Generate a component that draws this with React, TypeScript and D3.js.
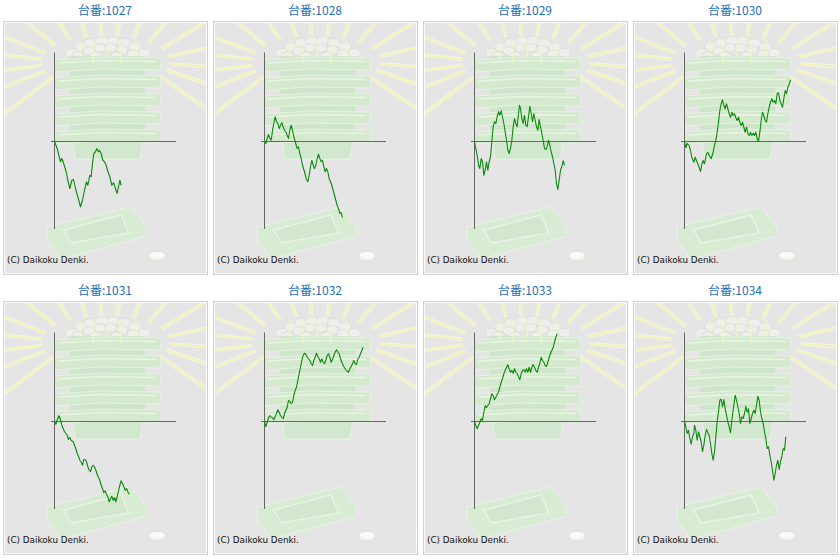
import React from "react";
import * as d3 from "d3";

// ---- data: cumulative medal difference vs games played ----
const machines = ["1027", "1028", "1029", "1030", "1031", "1032", "1033", "1034"];

const s1027: [number, number][] = [
  [0,0],[160,-280],[360,-810],[440,-680],[520,-810],[700,-1210],[800,-1550],[920,-1880],[1040,-1550],[1140,-1520],
  [1260,-1880],[1400,-2210],[1560,-2610],[1680,-2350],[1800,-1950],[1920,-1610],[2000,-1750],[2120,-1350],[2200,-1410],
  [2280,-880],[2360,-480],[2460,-410],[2540,-280],[2640,-410],[2700,-350],[2800,-480],[2900,-750],[3000,-810],[3100,-950],
  [3200,-1200],[3320,-1410],[3440,-1750],[3540,-1650],[3660,-1880],[3760,-2080],[3840,-1810],[3920,-1550],[4000,-1750],
];
const s1028: [number, number][] = [
  [0,0],[80,-80],[160,120],[240,280],[320,120],[400,50],[500,520],[640,990],[720,790],[800,720],[880,520],[960,650],
  [1040,750],[1120,590],[1200,450],[1280,390],[1360,250],[1440,120],[1520,450],[1600,650],[1680,450],[1760,190],
  [1860,-50],[1960,-280],[2040,-210],[2120,-480],[2200,-680],[2280,-950],[2400,-1210],[2500,-1480],[2600,-1610],
  [2680,-1350],[2760,-1010],[2840,-750],[2920,-950],[3000,-1080],[3080,-950],[3160,-680],[3240,-510],[3320,-680],
  [3400,-810],[3480,-750],[3560,-1010],[3640,-1210],[3720,-1080],[3800,-1210],[3880,-1480],[3960,-1610],[4040,-1750],
  [4120,-1950],[4200,-2150],[4280,-2350],[4360,-2550],[4440,-2680],[4520,-2880],[4600,-2850],[4680,-3040],
];
const s1029: [number, number][] = [
  [0,0],[80,-280],[160,-550],[240,-950],[320,-1080],[400,-680],[480,-810],[560,-1350],[640,-1150],[720,-810],
  [800,-1150],[880,-810],[960,-610],[1040,-10],[1120,590],[1200,790],[1280,720],[1360,990],[1440,1190],[1520,1050],
  [1600,1230],[1680,990],[1760,720],[1840,390],[1920,50],[2000,-350],[2080,-480],[2160,-280],[2240,50],[2320,590],
  [2400,920],[2480,720],[2560,590],[2640,1120],[2700,1450],[2760,1320],[2840,920],[2920,720],[3000,1050],[3080,650],
  [3160,590],[3240,990],[3320,1410],[3400,1120],[3480,790],[3560,1120],[3640,850],[3720,590],[3800,450],[3880,880],
  [3960,590],[4040,320],[4120,50],[4200,-280],[4280,-320],[4360,-210],[4440,50],[4520,-150],[4600,-410],[4680,-610],
  [4760,-880],[4840,-1150],[4920,-1680],[5000,-1920],[5080,-1550],[5160,-1150],[5240,-1010],[5320,-770],[5400,-950],
];
const s1030: [number, number][] = [
  [0,0],[80,-250],[160,-70],[280,-160],[360,-360],[440,-630],[560,-830],[640,-630],[720,-760],[840,-960],[960,-1200],
  [1040,-920],[1120,-760],[1200,-890],[1320,-490],[1400,-430],[1480,-560],[1600,-690],[1720,-430],[1800,-160],[1880,40],
  [1960,370],[2040,770],[2120,1240],[2200,1510],[2280,1670],[2360,1440],[2440,1310],[2520,1510],[2600,1310],[2680,1110],
  [2760,970],[2840,1170],[2920,1040],[3000,1110],[3080,950],[3160,840],[3240,970],[3320,770],[3400,640],[3480,770],
  [3560,570],[3640,370],[3720,570],[3800,330],[3880,240],[3960,370],[4040,240],[4120,330],[4200,240],[4280,370],
  [4360,110],[4440,10],[4520,370],[4600,840],[4680,1170],[4760,1040],[4840,840],[4920,770],[5000,1110],[5080,1370],
  [5160,1570],[5240,1710],[5320,1570],[5400,1640],[5480,1510],[5560,1910],[5640,1950],[5720,1640],[5800,1510],
  [5880,1370],[5960,1710],[6040,2040],[6120,1910],[6200,2170],[6280,2280],[6360,2470],
];
const s1031: [number, number][] = [
  [0,0],[80,-110],[160,50],[260,230],[340,120],[440,-150],[520,-280],[600,-410],[680,-480],[760,-550],[840,-720],
  [920,-640],[1000,-750],[1120,-810],[1200,-950],[1280,-1080],[1360,-1280],[1440,-1390],[1520,-1550],[1600,-1610],
  [1680,-1750],[1760,-1520],[1840,-1520],[1920,-1610],[2000,-1810],[2080,-1950],[2160,-2010],[2240,-1810],[2320,-1750],
  [2400,-1810],[2480,-1950],[2560,-2110],[2640,-2240],[2720,-2350],[2800,-2550],[2880,-2680],[2960,-2850],[3040,-2770],
  [3120,-2910],[3200,-3010],[3280,-3210],[3360,-3080],[3440,-2990],[3520,-3150],[3600,-3040],[3680,-3210],[3760,-3010],
  [3840,-2770],[3920,-2550],[4000,-2370],[4080,-2480],[4160,-2610],[4240,-2750],[4320,-2680],[4400,-2810],[4480,-2910],
];
const s1032: [number, number][] = [
  [0,0],[80,-200],[160,-30],[240,150],[320,240],[400,170],[480,150],[560,70],[640,200],[720,310],[800,470],[880,370],
  [960,240],[1040,170],[1120,110],[1200,310],[1280,440],[1360,570],[1440,840],[1520,810],[1600,710],[1680,770],
  [1760,1040],[1840,1240],[1920,1370],[2000,1640],[2080,1910],[2160,2170],[2240,2440],[2320,2640],[2400,2730],
  [2480,2680],[2560,2570],[2640,2510],[2720,2440],[2800,2310],[2880,2240],[2960,2440],[3040,2570],[3120,2730],
  [3200,2600],[3280,2510],[3360,2370],[3440,2510],[3520,2370],[3600,2310],[3680,2440],[3760,2640],[3840,2710],
  [3920,2570],[4000,2370],[4080,2470],[4160,2640],[4240,2770],[4320,2870],[4400,2770],[4480,2710],[4560,2510],
  [4640,2370],[4720,2240],[4800,2150],[4880,2070],[4960,2010],[5040,1970],[5120,2110],[5200,2200],[5280,2310],
  [5360,2440],[5440,2310],[5520,2280],[5600,2510],[5680,2570],[5760,2710],[5840,2840],[5920,2970],
];
const s1033: [number, number][] = [
  [0,0],[80,-160],[160,-290],[240,-160],[320,-30],[400,110],[480,40],[560,370],[640,640],[720,550],[800,640],[880,710],
  [960,910],[1040,1110],[1120,1040],[1200,870],[1280,970],[1360,1080],[1440,1170],[1520,1370],[1600,1570],[1680,1710],
  [1760,1910],[1840,2040],[1920,2170],[2000,2270],[2080,2110],[2160,1970],[2240,2040],[2320,1930],[2400,2110],
  [2480,1970],[2560,1910],[2640,1800],[2720,1670],[2800,1910],[2880,2040],[2960,2070],[3040,1970],[3120,2110],
  [3200,1970],[3280,2170],[3360,1970],[3440,2170],[3520,2280],[3600,2170],[3680,2040],[3760,1970],[3840,2170],
  [3920,2330],[4000,2570],[4080,2440],[4160,2370],[4240,2240],[4320,2200],[4400,2370],[4480,2570],[4560,2710],
  [4640,2840],[4720,2970],[4800,3170],[4880,3370],[4960,3510],
];
const s1034: [number, number][] = [
  [0,0],[80,-210],[160,-480],[240,-350],[320,-680],[400,-910],[480,-610],[560,-480],[600,-150],[680,-350],[760,-750],
  [840,-410],[920,-610],[1000,-810],[1080,-1210],[1160,-950],[1240,-550],[1320,-320],[1400,-450],[1480,-550],
  [1560,-880],[1640,-1280],[1720,-1550],[1800,-1210],[1880,-610],[1960,-10],[2040,390],[2120,850],[2200,890],
  [2280,590],[2360,880],[2440,520],[2520,250],[2600,-10],[2680,-210],[2760,-450],[2840,50],[2920,450],[3000,850],
  [3040,1050],[3120,850],[3200,590],[3280,320],[3360,-80],[3440,190],[3520,120],[3600,320],[3680,610],[3760,370],
  [3840,510],[3920,-80],[4000,120],[4080,320],[4160,450],[4240,320],[4320,650],[4400,1010],[4480,850],[4560,390],
  [4640,120],[4720,-80],[4800,-410],[4880,-680],[4960,-1080],[5040,-1010],[5120,-1350],[5200,-1610],[5280,-1950],
  [5360,-2350],[5440,-2080],[5520,-1750],[5600,-1550],[5680,-1920],[5760,-1610],[5840,-1410],[5920,-1080],
  [6000,-1150],[6080,-610],
];

const seriesList = [s1027, s1028, s1029, s1030, s1031, s1032, s1033, s1034];
const gamesMax = 7290;
const medalsMax = 3500;
const titlePrefix = "台番:";
const copyright = "(C) Daikoku Denki.";

// ---- layout ----
const PW = 210;
const PH = 280;
const x = d3.scaleLinear().domain([0, gamesMax]).range([54.5, 176]);
const y = d3.scaleLinear().domain([-medalsMax, medalsMax]).range([229, 54]);
const line = d3
  .line<[number, number]>()
  .x((d) => x(d[0]))
  .y((d) => y(d[1]))
  .curve(d3.curveLinear);

const rayAngles = [145, 160, 173, 186, 200, 218, 236, 252, 266, 280, 295, 312, 330, 348, 4, 18, 33];
const balls: [number, number, number][] = [
  [72, 53, 6.5], [81, 47, 6.5], [91, 43, 6.5], [102, 41, 6.5], [113, 41, 6.5], [124, 43, 6.5], [135, 47, 6.5], [144, 53, 6.5],
  [78, 56, 6], [89, 51, 6], [100, 48, 6], [111, 48, 6], [122, 50, 6], [133, 54, 6], [95, 56, 6], [117, 56, 6],
];
const tiers = [0, 1, 2, 3, 4];

function Background({ id }: { id: string }) {
  const cx = 106;
  const cy = 62;
  return (
    <g clipPath={`url(#${id})`}>
      <rect x={4} y={22} width={203} height={252} fill="#e5e5e5" />
      {rayAngles.map((a) => {
        const r = (a * Math.PI) / 180;
        const p = {
          x1: cx + Math.cos(r) * 64,
          y1: cy + Math.sin(r) * 26,
          x2: cx + Math.cos(r) * 180,
          y2: cy + Math.sin(r) * 150,
        };
        return (
          <g key={a}>
            <line {...p} stroke="#f4f4ea" strokeWidth={3.6} />
            <line {...p} stroke="#f2f2b2" strokeWidth={1.8} />
          </g>
        );
      })}
      {balls.map((b, i) => (
        <ellipse key={i} cx={b[0]} cy={b[1]} rx={b[2]} ry={b[2] * 0.72} fill="#eeeeea" stroke="#d9d9d6" strokeWidth={0.7} />
      ))}
      <path d="M72,140 L143,140 L140,159 L75,159 Z" fill="#d2e8ce" stroke="#eef7ec" strokeWidth={1} strokeDasharray="2,1" />
      <rect x={70} y={56} width={75} height={86} fill="#cfe5cb" />
      {tiers.map((k) => {
        const t = 57 + k * 18;
        return (
          <g key={k}>
            <path
              d={`M54,${t + 3} L100,${t} L160,${t + 1} L161,${t + 13} L100,${t + 12} L54,${t + 15} Z`}
              fill="#d4e9ce"
              stroke="#e6f3e3"
              strokeWidth={1}
            />
            <path d={`M58,${t + 6} L100,${t + 3.5} L156,${t + 4.5}`} fill="none" stroke="#e8f5e5" strokeWidth={1.6} />
          </g>
        );
      })}
      {[80, 93, 107, 121, 136].map((sx, i) => (
        <line key={i} x1={sx} y1={40} x2={sx} y2={58 + (i % 2) * 6} stroke="#f4f4c4" strokeWidth={1.2} />
      ))}
      <path
        d="M47,227 L131,207 L147,228 L146,236 L132,240 L61,259 L47,240 Z"
        fill="#d8ebd3"
        stroke="#f2f8f0"
        strokeWidth={1}
        strokeDasharray="2,1"
      />
      <path d="M64,230 L121,215 L129,233 L71,243 Z" fill="#d2e7cd" stroke="#e8f4e5" strokeWidth={1.5} />
      <ellipse cx={157} cy={256} rx={9} ry={5} fill="#f2f2ee" stroke="#d8d8d4" strokeWidth={0.8} />
      <ellipse cx={157} cy={255} rx={7} ry={3} fill="#fafaf8" />
    </g>
  );
}

function Panel({ idx }: { idx: number }) {
  const col = idx % 4;
  const row = Math.floor(idx / 4);
  const data = seriesList[idx];
  const id = `clip${idx}`;
  return (
    <g transform={`translate(${col * PW},${row * PH})`}>
      <defs>
        <clipPath id={id}>
          <rect x={4} y={22} width={203} height={252} />
        </clipPath>
      </defs>
      <text
        x={105}
        y={15}
        textAnchor="middle"
        fontFamily="'Noto Sans CJK JP', 'Noto Sans', sans-serif"
        fontSize={12}
        fill="#2470b4"
      >
        {titlePrefix + machines[idx]}
      </text>
      <Background id={id} />
      <rect x={3.5} y={21.5} width={204} height={253} fill="none" stroke="#cfcfcf" strokeWidth={1} />
      <rect x={4.5} y={22.5} width={202} height={251} fill="none" stroke="#fafafa" strokeWidth={1} />
      <line x1={x(0)} x2={x(0)} y1={y(medalsMax) - 1.5} y2={y(-medalsMax)} stroke="#666" strokeWidth={1} />
      <line x1={x(0) - 3.5} x2={x(gamesMax)} y1={y(0)} y2={y(0)} stroke="#666" strokeWidth={1} />
      <path d={line(data) ?? ""} fill="none" stroke="#0a8a0a" strokeWidth={1.1} strokeLinejoin="round" />
      <text x={7} y={263} fontFamily="'DejaVu Sans', sans-serif" fontSize={8.8} fill="#111">
        {copyright}
      </text>
    </g>
  );
}

export default function App() {
  return (
    <svg
      width={840}
      height={560}
      style={{ position: "absolute", left: 0, top: 0, background: "#fff" }}
    >
      {machines.map((m, i) => (
        <Panel key={m} idx={i} />
      ))}
    </svg>
  );
}
